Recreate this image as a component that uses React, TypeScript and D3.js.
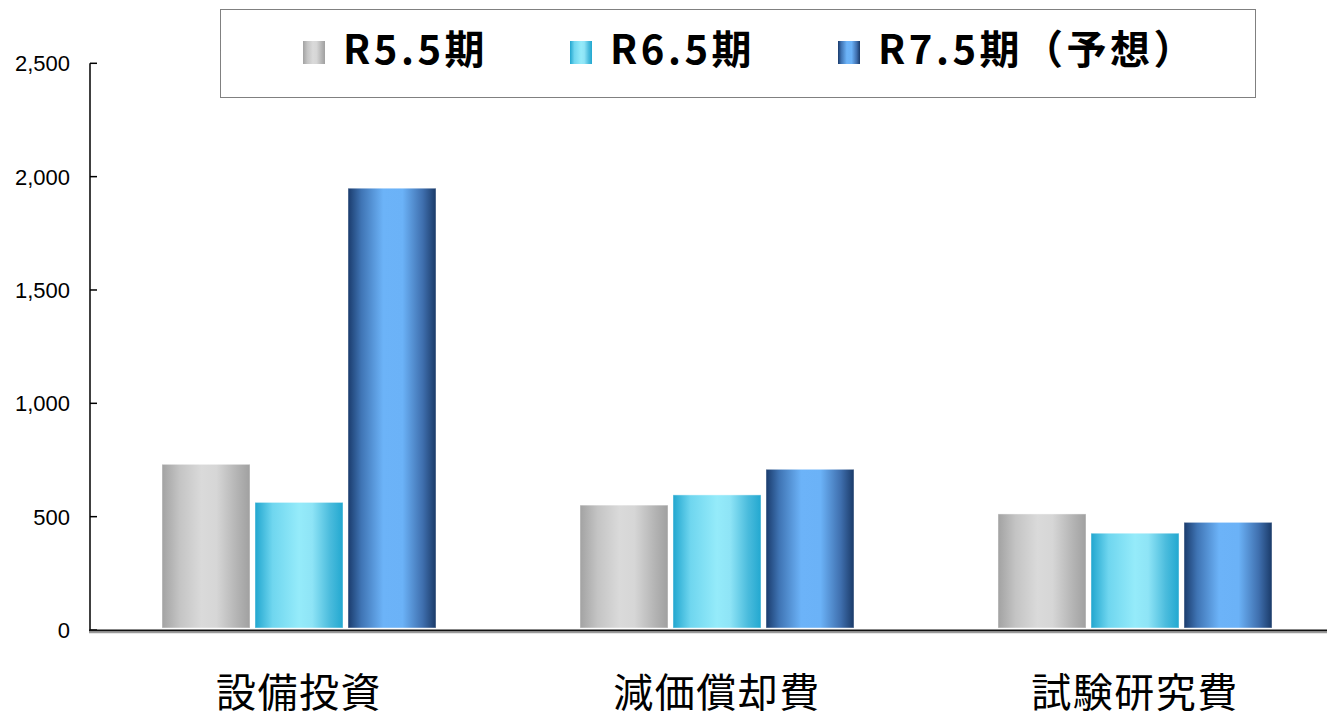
import React from 'react';
import * as d3 from 'd3';

const categories = ['設備投資', '減価償却費', '試験研究費'];
const seriesNames = ['R5.5期', 'R6.5期', 'R7.5期（予想）'];
const r5Values = [731, 551, 512];
const r6Values = [563, 596, 427];
const r7Values = [1949, 709, 475];
const yTicks = [0, 500, 1000, 1500, 2000, 2500];

const seriesValues = [r5Values, r6Values, r7Values];

// gradient stops per series (left -> right across the bar)
const gradients = [
  [['0%', '#a2a2a2'], ['20%', '#c4c4c4'], ['45%', '#dadada'], ['62%', '#d6d6d6'], ['85%', '#b4b4b4'], ['100%', '#a0a0a0']],
  [['0%', '#21a6cf'], ['20%', '#6fd6ef'], ['50%', '#95ebfa'], ['65%', '#8ee4f6'], ['85%', '#4bbcdd'], ['100%', '#22a8d0']],
  [['0%', '#1a3b6c'], ['15%', '#3f74b4'], ['40%', '#6cb3f8'], ['62%', '#6bb2f7'], ['85%', '#3f6fae'], ['100%', '#1a3a68']],
];

const W = 1327;
const H = 720;

const App = () => {
  const y = d3.scaleLinear().domain([0, 2500]).range([630, 63.3]);
  const x0 = d3.scaleBand<string>().domain(categories).range([90, 1344]).paddingInner(0).paddingOuter(0);
  const x1 = d3.scaleBand<string>().domain(seriesNames).range([72, 346]).paddingInner(0.0538).paddingOuter(0);
  const fmt = d3.format(',');

  const legendX = [303, 570, 838];

  return (
    <svg width={W} height={H} style={{ position: 'absolute', left: 0, top: 0, background: '#fff' }}>
      <defs>
        {gradients.map((stops, i) => (
          <linearGradient key={i} id={`g${i}`} x1="0" x2="1" y1="0" y2="0">
            {stops.map(([o, c]) => (
              <stop key={o} offset={o} stopColor={c} />
            ))}
          </linearGradient>
        ))}
      </defs>

      {/* bars */}
      {categories.map((cat, ci) => (
        <g key={cat} transform={`translate(${x0(cat)},0)`}>
          {seriesNames.map((s, si) => {
            const v = seriesValues[si][ci];
            return (
              <rect
                key={s}
                x={x1(s)}
                y={y(v)}
                width={x1.bandwidth()}
                height={y(0) - 2 - y(v)}
                fill={`url(#g${si})`}
                stroke="#ffffff"
                strokeOpacity={0.45}
                strokeWidth={1}
              />
            );
          })}
        </g>
      ))}

      {/* y axis */}
      <line x1={90} x2={90} y1={y(2500)} y2={y(0)} stroke="#000" strokeWidth={1.5} />
      {yTicks.map((t) => (
        <g key={t}>
          <line x1={90} x2={97} y1={y(t)} y2={y(t)} stroke="#000" strokeWidth={1.5} />
          <text
            x={70}
            y={y(t)}
            dy="0.36em"
            textAnchor="end"
            fontFamily="'Liberation Sans', Arial, sans-serif"
            fontSize={22}
            fill="#000"
          >
            {fmt(t)}
          </text>
        </g>
      ))}

      {/* x axis */}
      <line x1={89} x2={W} y1={630.5} y2={630.5} stroke="#111" strokeWidth={2} />
      <line x1={89} x2={W} y1={632.5} y2={632.5} stroke="#9a9a9a" strokeWidth={1.5} />

      {categories.map((cat) => (
        <text
          key={cat}
          x={x0(cat)! + x0.bandwidth() / 2}
          y={707}
          textAnchor="middle"
          fontFamily="'Noto Sans CJK JP', sans-serif"
          fontSize={40}
          letterSpacing={1.5}
          fill="#000"
        >
          {cat}
        </text>
      ))}

      {/* legend */}
      <rect x={220.5} y={9.5} width={1035} height={88} fill="#fff" stroke="#000" strokeWidth={1} strokeDasharray="1,1" />
      {seriesNames.map((s, i) => (
        <g key={s}>
          <rect x={legendX[i]} y={41} width={22} height={23} fill={`url(#g${i})`} />
          <text
            x={legendX[i] + 40}
            y={64}
            fontFamily="'Noto Sans CJK JP', sans-serif"
            fontWeight="bold"
            fontSize={40}
            letterSpacing={3.5}
            fill="#000"
          >
            {s}
          </text>
        </g>
      ))}
    </svg>
  );
};

export default App;
